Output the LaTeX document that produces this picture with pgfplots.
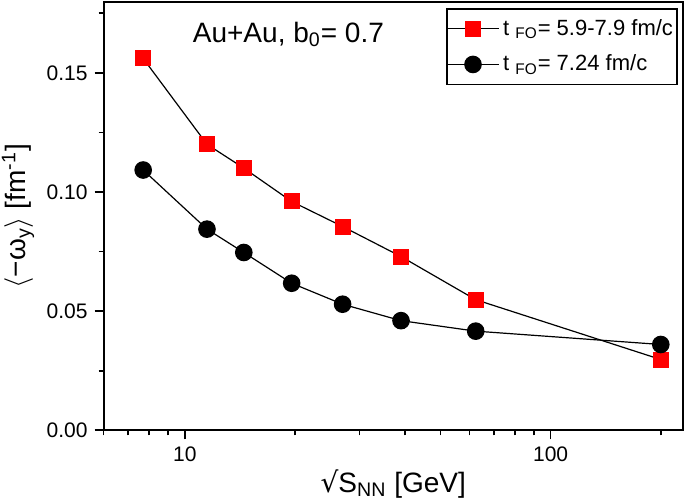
\documentclass[border=0pt]{standalone}
\usepackage{pgfplots}
\pgfplotsset{compat=1.18}
\usepackage{fontspec}
\setmainfont{Liberation Sans}
\newfontfamily\symfont{DejaVu Sans}
\definecolor{myred}{RGB}{255,0,0}
\begin{document}
\begin{tikzpicture}
\begin{axis}[
  scale only axis,
  width=289.5pt, height=214pt,
  xmode=log, log basis x=10,
  xmin=6, xmax=230,
  ymin=0, ymax=0.1797,
  xtick={10,100},
  xticklabels={10,100},
  minor xtick={6,7,8,9,20,30,40,50,60,70,80,90,200},
  ytick={0,0.05,0.1,0.15},
  minor ytick={0.025,0.075,0.125,0.175},
  yticklabel style={/pgf/number format/.cd,fixed,fixed zerofill,precision=2},
  /pgf/number format/assume math mode=true,
  ticklabel style={font=\fontsize{10.5}{12}\selectfont},
  tick align=outside,
  xtick pos=bottom, ytick pos=left,
  major tick length=4.5pt, minor tick length=2.5pt,
  every tick/.style={black, line width=0.8pt},
  axis line style={line width=1pt},
  xlabel={{\symfont √}S\textsubscript{NN} [GeV]},
  ylabel={$\langle$−ω\textsubscript{y}$\rangle$ [fm\textsuperscript{-1}]},
  label style={font=\fontsize{14}{16}\selectfont},
  xlabel style={at={(axis description cs:0.5,-0.1449)}, anchor=base},
  ylabel style={at={(axis description cs:-0.1477,0.5)}, anchor=center},
  legend style={at={(0.991,0.986)}, anchor=north east, draw=black, line width=0.8pt,
    font=\fontsize{11}{13}\selectfont, inner xsep=0pt, inner ysep=1pt,
    row sep=0pt, cells={anchor=west}, nodes={inner xsep=2pt, inner ysep=4.2pt}},
  legend image code/.code={\draw[mark repeat=2,mark phase=2,#1] plot coordinates {(0pt,0pt) (12.75pt,0pt) (25.5pt,0pt)};},
  clip=false,
]
\addplot[black, line width=0.6pt, mark=square*, mark size=3.75pt,
  mark options={fill=myred, draw=myred, line width=0pt}]
  coordinates {(7.7,0.156) (11.5,0.120) (14.5,0.110) (19.6,0.096) (27,0.0855) (39,0.0729) (62.4,0.0548) (200,0.0297)};
\addlegendentry{t \textsubscript{FO}= 5.9-7.9 fm/c}
\addplot[black, line width=0.6pt, mark=*, mark size=4.1pt,
  mark options={fill=black, draw=black}]
  coordinates {(7.7,0.1092) (11.5,0.0844) (14.5,0.0746) (19.6,0.0617) (27,0.0529) (39,0.0460) (62.4,0.0416) (200,0.0360)};
\addlegendentry{t \textsubscript{FO}= 7.24 fm/c}
\node[font=\fontsize{14}{16}\selectfont] at (axis cs:19.2,0.166) {Au+Au, b\textsubscript{0}= 0.7};
\end{axis}
\pgfresetboundingbox
\path ([xshift=-51.75pt,yshift=-34.5pt]current axis.south west) rectangle ([xshift=1pt,yshift=1pt]current axis.north east);
\end{tikzpicture}
\end{document}
